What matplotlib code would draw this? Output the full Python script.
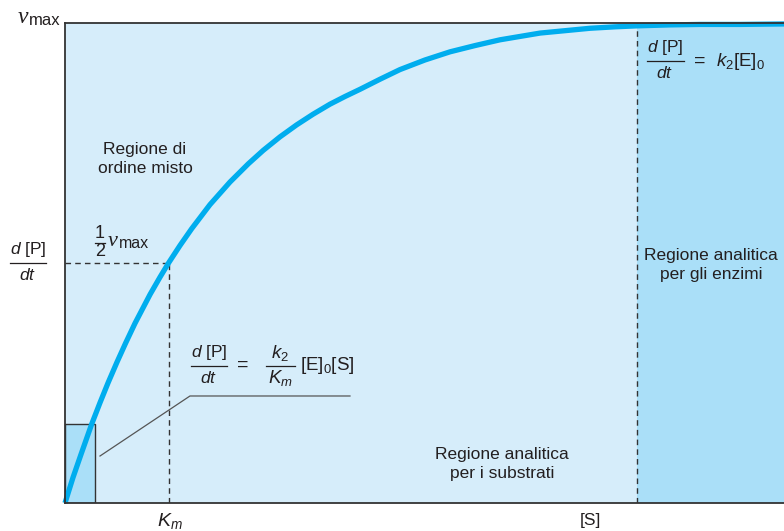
# Michaelis-Menten style saturation plot (regioni di ordine)
import matplotlib
matplotlib.use("Agg")
import matplotlib.pyplot as plt
from matplotlib import font_manager

# pick a condensed sans if there is one
try:
    font_manager.findfont("Liberation Sans Narrow", fallback_to_default=False)
    SANS = "Liberation Sans Narrow"
except Exception:
    SANS = "Liberation Sans"

plt.rcParams["font.family"] = [SANS, "DejaVu Sans"]
plt.rcParams["mathtext.fontset"] = "custom"
plt.rcParams["mathtext.rm"] = SANS
plt.rcParams["mathtext.it"] = SANS + ":italic"

# curve ([S] in units of Km, rate in units of vmax)
s_vals = [0.0, 0.077, 0.154, 0.257, 0.338, 0.415, 0.501, 0.585, 0.675, 0.820,
          0.916, 1.000, 1.109, 1.222, 1.398, 1.591, 1.768, 1.912, 2.073, 2.234,
          2.391, 2.555, 2.700, 2.845, 3.038, 3.230, 3.471, 3.713, 3.954, 4.195,
          4.388, 4.581, 4.822, 5.063, 5.304, 5.513, 5.834, 6.123, 6.509, 6.933]
v_vals = [0.0, 0.053, 0.101, 0.164, 0.209, 0.250, 0.293, 0.333, 0.374, 0.434,
          0.470, 0.500, 0.536, 0.571, 0.621, 0.668, 0.706, 0.734, 0.762, 0.787,
          0.809, 0.830, 0.846, 0.861, 0.882, 0.902, 0.922, 0.939, 0.952, 0.964,
          0.971, 0.978, 0.983, 0.988, 0.991, 0.993, 0.995, 0.996, 0.996, 0.997]

km = 1.0
half = 0.5
s_enzyme = 5.513      # start of the enzyme region
s_max = 6.933
box_s = 0.289         # small box near origin
box_v = 0.164
leader_s = [0.3375, 1.205, 2.748]
leader_v = [0.0978, 0.2227, 0.2227]

LIGHT = "#d6edfa"
DARK = "#aadff8"
CURVE = "#00adee"
INK = "#231f20"

W, H = 784, 531
fig = plt.figure(figsize=(W / 100, H / 100), dpi=100)
ax = fig.add_axes([65 / W, (H - 503) / H, (W - 65) / W, (503 - 22.5) / H])
ax.set_xlim(0, s_max)
ax.set_ylim(0, 1)
ax.set_facecolor(LIGHT)
for side in ["left", "bottom", "top"]:
    ax.spines[side].set_color("#333333")
    ax.spines[side].set_linewidth(1.3)
ax.spines["right"].set_visible(False)
ax.set_xticks([])
ax.set_yticks([])

ax.axvspan(s_enzyme, s_max, color=DARK, lw=0, zorder=0.5)
ax.add_patch(plt.Rectangle((0, 0), box_s, box_v, facecolor=DARK,
                           edgecolor="#333333", lw=1.0, zorder=1))

dash = dict(color="#333333", lw=1.0, dashes=(4, 3), zorder=1.2)
ax.plot([km, km], [0, half], **dash)
ax.plot([0, km], [half, half], **dash)
ax.plot([s_enzyme, s_enzyme], [0, 1], **dash)

ax.plot(leader_s, leader_v, color="#555555", lw=0.9, zorder=1.3)

ax.plot(s_vals, v_vals, color=CURVE, lw=3.8, solid_capstyle="butt",
        solid_joinstyle="round", clip_on=False, zorder=2)


def P(x, y):
    return x / W, 1 - y / H


def txt(x, y, s, **kw):
    kw.setdefault("color", INK)
    kw.setdefault("fontsize", 12.5)
    kw.setdefault("ha", "center")
    kw.setdefault("va", "center")
    fig.text(*P(x, y), s, **kw)


def frac(xc, ybar, num, den, w, up=13, down=12, size=12.5):
    txt(xc, ybar - up, num, fontsize=size)
    txt(xc, ybar + down, den, fontsize=size)
    fig.add_artist(plt.Line2D([(xc - w / 2) / W, (xc + w / 2) / W],
                              [1 - ybar / H, 1 - ybar / H],
                              color=INK, lw=0.9, transform=fig.transFigure))


def vmax(x, y, nu_size=17, sub_size=12):
    txt(x, y, "ν", fontsize=nu_size, family="Liberation Serif", style="italic",
        ha="left", va="baseline")
    txt(x + 11, y + 2, "max", fontsize=sub_size, ha="left", va="baseline")


# region labels
txt(145, 159, "Regione di\nordine misto", linespacing=1.4)
txt(711, 265, "Regione analitica\nper gli enzimi", linespacing=1.4)
txt(502, 464, "Regione analitica\nper i substrati", linespacing=1.4)

# axis labels
vmax(18, 23)
frac(28, 262.7, r"$d\ [\mathrm{P}]$", r"$dt$", 36)
txt(170, 521, r"$K_m$", fontsize=14)
txt(590, 521, "[S]", fontsize=12.5)

# one half vmax
frac(100, 242.5, "1", "2", 10, up=9, down=9, size=13)
vmax(108, 246, nu_size=16, sub_size=11.5)

# rate law, enzyme region
frac(665, 60.7, r"$d\ [\mathrm{P}]$", r"$dt$", 37)
txt(700, 61, "=", fontsize=14)
txt(716, 62, r"$k_2[\mathrm{E}]_0$", ha="left", fontsize=13.5)

# rate law, substrate region
frac(209, 365.7, r"$d\ [\mathrm{P}]$", r"$dt$", 36)
txt(243, 365, "=", fontsize=14)
frac(280, 365.7, r"$k_2$", r"$K_m$", 29, size=13.5)
txt(300, 366, r"$[\mathrm{E}]_0[\mathrm{S}]$", ha="left", fontsize=13.5)

fig.savefig("out.png", dpi=100)
